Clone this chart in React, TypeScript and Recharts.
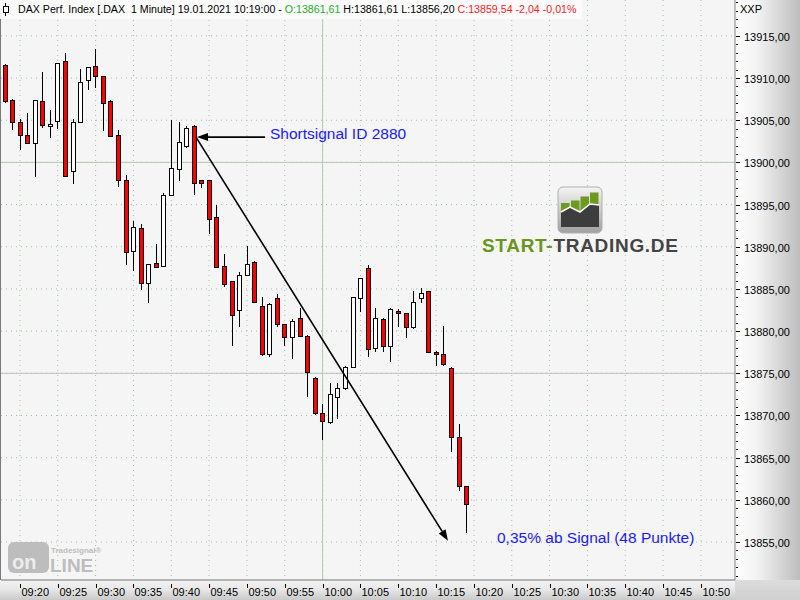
import React from 'react';
import { ComposedChart, Bar, XAxis, YAxis, CartesianGrid, ReferenceLine } from 'recharts';

// 1-minute candles, DAX 19.01.2021
const times = [
  '09:18', '09:19', '09:20', '09:21', '09:22', '09:23', '09:24', '09:25', '09:26', '09:27',
  '09:28', '09:29', '09:30', '09:31', '09:32', '09:33', '09:34', '09:35', '09:36', '09:37',
  '09:38', '09:39', '09:40', '09:41', '09:42', '09:43', '09:44', '09:45', '09:46', '09:47',
  '09:48', '09:49', '09:50', '09:51', '09:52', '09:53', '09:54', '09:55', '09:56', '09:57',
  '09:58', '09:59', '10:00', '10:01', '10:02', '10:03', '10:04', '10:05', '10:06', '10:07',
  '10:08', '10:09', '10:10', '10:11', '10:12', '10:13', '10:14', '10:15', '10:16', '10:17',
  '10:18', '10:19',
];
const opens = [
  13911.6, 13907.4, 13904.8, 13903.2, 13902.3, 13907.3, 13904.3, 13904.9, 13912.0, 13899.0,
  13904.8, 13909.8, 13911.4, 13910.2, 13907.3, 13903.2, 13897.9, 13889.5, 13892.2, 13885.7,
  13888.1, 13887.7, 13896.1, 13899.2, 13901.9, 13904.3, 13897.9, 13897.9, 13893.5, 13887.7,
  13885.9, 13882.5, 13886.7, 13888.2, 13883.0, 13877.3, 13883.9, 13880.8, 13879.3, 13881.5,
  13879.4, 13874.5, 13870.3, 13869.2, 13872.2, 13873.2, 13875.8, 13883.9, 13887.5, 13878.0,
  13881.4, 13878.2, 13882.4, 13882.1, 13880.5, 13883.9, 13884.7, 13877.5, 13877.3, 13875.6,
  13867.5, 13861.61,
];
const highs = [
  13911.7, 13907.5, 13905.2, 13905.8, 13907.4, 13910.7, 13906.2, 13911.8, 13913.0, 13905.1,
  13911.1, 13911.3, 13913.4, 13910.3, 13907.4, 13903.8, 13898.5, 13893.0, 13892.7, 13887.9,
  13890.3, 13896.4, 13905.0, 13904.8, 13904.3, 13904.4, 13897.9, 13897.9, 13895.0, 13889.1,
  13886.0, 13887.0, 13890.1, 13888.3, 13884.0, 13883.3, 13884.4, 13880.9, 13881.4, 13882.7,
  13879.5, 13874.6, 13871.4, 13873.9, 13873.8, 13875.9, 13884.1, 13886.3, 13887.8, 13882.7,
  13881.5, 13882.7, 13882.6, 13882.2, 13884.7, 13885.1, 13884.8, 13877.6, 13880.6, 13875.7,
  13869.0, 13861.61,
];
const lows = [
  13907.2, 13904.0, 13901.6, 13902.3, 13898.4, 13904.2, 13903.0, 13904.1, 13898.4, 13897.6,
  13904.8, 13908.7, 13908.9, 13903.8, 13903.1, 13897.2, 13887.9, 13887.2, 13885.0, 13883.5,
  13887.6, 13887.7, 13896.1, 13897.9, 13901.8, 13896.2, 13897.1, 13891.6, 13887.6, 13885.3,
  13878.3, 13880.6, 13886.7, 13883.5, 13877.2, 13877.1, 13880.6, 13878.3, 13876.8, 13879.4,
  13872.3, 13870.2, 13867.2, 13869.1, 13869.7, 13873.1, 13875.8, 13882.4, 13877.0, 13877.7,
  13877.7, 13876.5, 13880.6, 13879.3, 13880.4, 13883.5, 13877.5, 13876.0, 13876.0, 13865.8,
  13861.2, 13856.2,
];
const closes = [
  13907.3, 13904.8, 13903.3, 13902.3, 13907.4, 13904.4, 13904.5, 13911.8, 13898.4, 13904.8,
  13909.5, 13911.3, 13910.2, 13907.1, 13903.1, 13897.9, 13889.4, 13892.4, 13885.7, 13887.9,
  13887.6, 13896.1, 13899.3, 13902.4, 13904.1, 13897.5, 13897.5, 13893.3, 13887.6, 13885.6,
  13881.9, 13886.7, 13888.0, 13883.5, 13877.3, 13883.2, 13880.9, 13879.3, 13881.2, 13879.4,
  13875.2, 13870.3, 13869.3, 13872.6, 13873.2, 13875.8, 13884.0, 13886.3, 13877.9, 13881.5,
  13878.2, 13882.6, 13882.1, 13880.5, 13883.5, 13884.5, 13877.5, 13877.3, 13876.1, 13867.4,
  13861.6, 13859.54,
];

const xTickLabels = [
  '09:20', '09:25', '09:30', '09:35', '09:40', '09:45', '09:50', '09:55', '10:00', '10:05',
  '10:10', '10:15', '10:20', '10:25', '10:30', '10:35', '10:40', '10:45', '10:50',
];
const yMajorTicks = [13855, 13860, 13865, 13870, 13875, 13880, 13885, 13890, 13895, 13900, 13905, 13910, 13915];
const ySolidLines = [13900, 13875];
const xSolidLine = '10:00';

// signal annotation (time in minutes of day, price)
const signalStart = { t: 583.27, p: 13903.0 };
const signalEnd = { t: 616.57, p: 13855.15 };
const labelArrowFrom = { t: 592.4, p: 13903.0 };
const labelArrowTo = { t: 583.4, p: 13903.0 };

const toMin = (s: string) => {
  const [h, m] = s.split(':').map(Number);
  return h * 60 + m;
};

const data = times.map((t, i) => ({
  t: toMin(t),
  o: opens[i],
  h: highs[i],
  l: lows[i],
  c: closes[i],
  range: [lows[i], highs[i]],
}));

const xTicks = xTickLabels.map(toMin);
const yTicks: number[] = [];
for (let v = 13851; v <= 13919; v++) yTicks.push(v);

const FONT = '"Liberation Sans", Arial, sans-serif';

const Candle = (props: any) => {
  const { x, y, width, height, payload } = props;
  if (x == null || y == null) return null;
  const { o, h, l, c } = payload;
  const span = h - l || 1;
  const py = (v: number) => y + ((h - v) / span) * height;
  const cx = Math.floor(x + width / 2);
  let top = Math.round(py(Math.max(o, c)));
  let bot = Math.round(py(Math.min(o, c)));
  if (bot - top < 2) bot = top + 2;
  const wTop = Math.round(py(h));
  const wBot = Math.round(py(l));
  const fill = c >= o ? '#ffffff' : '#ff0000';
  return (
    <g shapeRendering="crispEdges">
      <rect x={cx} y={wTop} width={1} height={Math.max(1, wBot - wTop + 1)} fill="#000" />
      <rect x={cx - 2} y={top} width={5} height={bot - top + 1} fill="#000" />
      <rect x={cx - 1} y={top + 1} width={3} height={bot - top - 1} fill={fill} />
    </g>
  );
};

const Arrow = (props: any) => {
  const { x1, y1, x2, y2 } = props;
  if (x1 == null) return null;
  const a = Math.atan2(y2 - y1, x2 - x1);
  const len = 11;
  const half = 4;
  const bx = x2 - len * Math.cos(a);
  const by = y2 - len * Math.sin(a);
  const p1 = `${bx + half * Math.sin(a)},${by - half * Math.cos(a)}`;
  const p2 = `${bx - half * Math.sin(a)},${by + half * Math.cos(a)}`;
  return (
    <g>
      <line x1={x1} y1={y1} x2={bx} y2={by} stroke="#000" strokeWidth={1.6} />
      <polygon points={`${x2},${y2} ${p1} ${p2}`} fill="#000" />
    </g>
  );
};

const XTick = (props: any) => {
  const { x, y, payload } = props;
  const idx = xTicks.indexOf(payload.value);
  const px = Math.round(x) + 0.5;
  return (
    <g>
      <line x1={px} x2={px} y1={y + 4} y2={y + 8} stroke="#000" />
      <text x={px + 1} y={y + 16} fontSize={11} fontFamily={FONT} fill="#000">
        {xTickLabels[idx]}
      </text>
    </g>
  );
};

const YTick = (props: any) => {
  const { x, y, payload } = props;
  const v = payload.value;
  const major = yMajorTicks.includes(v);
  const py = Math.round(y) + 0.5;
  return (
    <g>
      <line x1={x + 1} x2={x + (major ? 5 : 3)} y1={py} y2={py} stroke="#000" />
      {major && (
        <text x={x + 9} y={py + 4} fontSize={11} fontFamily={FONT} fill="#000">
          {v.toFixed(2).replace('.', ',')}
        </text>
      )}
    </g>
  );
};

export default function App() {
  return (
    <div style={{ position: 'relative', width: 800, height: 600, overflow: 'hidden', fontFamily: FONT }}>
      <style>{'body{margin:0}'}</style>
      {/* backgrounds */}
      <div style={{ position: 'absolute', left: 0, top: 0, width: 735, height: 580, background: '#f5f5f5' }} />
      <div
        style={{
          position: 'absolute', left: 735, top: 0, width: 65, height: 580,
          background: 'linear-gradient(to right, #ffffff 0%, #f2f2f2 35%, #bdbdbd 100%)',
        }}
      />
      <div
        style={{
          position: 'absolute', left: 0, top: 580, width: 735, height: 20,
          background: 'linear-gradient(to bottom, #f4f4f4 0%, #e6e6e6 50%, #c9c9c9 100%)',
        }}
      />
      <div
        style={{
          position: 'absolute', left: 735, top: 580, width: 65, height: 20,
          background: 'linear-gradient(to bottom, #dcdcdc 0%, #cfcfcf 100%)',
        }}
      />
      <div style={{ position: 'absolute', left: 0, top: 0, width: 1, height: 580, background: '#7a7a7a' }} />

      <ComposedChart
        width={800}
        height={600}
        data={data}
        margin={{ top: 0, right: 0, left: 1, bottom: 0 }}
      >
        <CartesianGrid
          horizontalValues={yMajorTicks}
          verticalValues={xTicks}
          stroke="#a9bda9"
          strokeDasharray="1 4"
        />
        <CartesianGrid
          horizontalValues={ySolidLines}
          verticalValues={[toMin(xSolidLine)]}
          stroke="#b4c8b4"
        />
        <XAxis
          dataKey="t"
          type="number"
          domain={[557.5, 654.5]}
          ticks={xTicks}
          interval={0}
          height={20}
          tickSize={0}
          tickMargin={0}
          tickLine={false}
          axisLine={{ stroke: '#707070' }}
          tick={<XTick />}
        />
        <YAxis
          orientation="right"
          type="number"
          domain={[13850.5, 13919.25]}
          ticks={yTicks}
          interval={0}
          width={65}
          tickSize={0}
          tickMargin={0}
          tickLine={false}
          axisLine={{ stroke: '#808080' }}
          tick={<YTick />}
        />
        <Bar dataKey="range" barSize={6} isAnimationActive={false} shape={<Candle />} />
        <ReferenceLine
          segment={[{ x: signalStart.t, y: signalStart.p }, { x: signalEnd.t, y: signalEnd.p }]}
          shape={<Arrow />}
        />
        <ReferenceLine
          segment={[{ x: labelArrowFrom.t, y: labelArrowFrom.p }, { x: labelArrowTo.t, y: labelArrowTo.p }]}
          shape={<Arrow />}
        />
      </ComposedChart>

      {/* header */}
      <div
        style={{
          position: 'absolute', left: 0, top: 0, width: 582, height: 19, background: '#fbfbfb',
          fontSize: 10.65, lineHeight: '19px', whiteSpace: 'pre', color: '#000',
        }}
      >
        <span style={{ position: 'absolute', left: 18, top: 0 }}>
          {'DAX Perf. Index [.DAX  1 Minute] 19.01.2021 10:19:00 - '}
          <span style={{ color: '#22b022' }}>O:13861,61</span>
          {' H:13861,61 L:13856,20 '}
          <span style={{ color: '#ff1a1a' }}>C:13859,54 -2,04 -0,01%</span>
        </span>
      </div>
      <div style={{ position: 'absolute', left: 740, top: 3, fontSize: 11, color: '#000' }}>XXP</div>

      {/* overlays: annotation texts and logos */}
      <svg width={800} height={600} style={{ position: 'absolute', left: 0, top: 0, pointerEvents: 'none' }}>
        <defs>
          <linearGradient id="icoBg" x1="0" y1="0" x2="0" y2="1">
            <stop offset="0%" stopColor="#f4f4f4" />
            <stop offset="100%" stopColor="#a0a0a0" />
          </linearGradient>
        </defs>
        {/* top-left symbol */}
        <g stroke="#000" fill="none" shapeRendering="crispEdges">
          <line x1={5.5} y1={3} x2={5.5} y2={16} />
          <rect x={3.5} y={6.5} width={5} height={6} fill="#fff" />
        </g>

        <text x={270} y={139} fontSize={15.5} fontFamily={FONT} fill="#1a1aff">Shortsignal ID 2880</text>
        <text x={497} y={543} fontSize={15.5} fontFamily={FONT} fill="#1a1aff">0,35% ab Signal (48 Punkte)</text>

        {/* START-TRADING.DE logo */}
        <rect x={558} y={187} width={44} height={46} rx={5} fill="url(#icoBg)" stroke="#b0b0b0" />
        <rect x={561} y={203} width={8.5} height={24} fill="#6f9a1f" />
        <rect x={571} y={200.5} width={8.5} height={26.5} fill="#6f9a1f" />
        <rect x={580.5} y={196.5} width={8.5} height={30.5} fill="#6f9a1f" />
        <rect x={590} y={192.5} width={8.5} height={34.5} fill="#6f9a1f" />
        <polygon points="561,212 570,207 580,212 590,204 599,205 599,227 561,227" fill="#3d3d3d" />
        <polyline points="561,212 570,207 580,212 590,204 599,205" fill="none" stroke="#ffffff" strokeWidth={1.5} />
        <text x={482} y={252} fontSize={19} fontWeight="bold" fontFamily={FONT} letterSpacing={0.7}>
          <tspan fill="#6a961c">START-</tspan>
          <tspan fill="#444444">TRADING.DE</tspan>
        </text>

        {/* Tradesignal online watermark */}
        <rect x={8} y={542} width={41} height={31} rx={6} fill="#bdbdbd" />
        <text x={12} y={569} fontSize={20} fontWeight="bold" fontFamily={FONT} fill="#ececec">on</text>
        <text x={50} y={572} fontSize={19} fontWeight="bold" fontFamily={FONT} fill="#bdbdbd">LINE</text>
        <text x={51} y={553} fontSize={8} fontWeight="bold" fontFamily={FONT} fill="#bdbdbd">Tradesignal®</text>
      </svg>
    </div>
  );
}
